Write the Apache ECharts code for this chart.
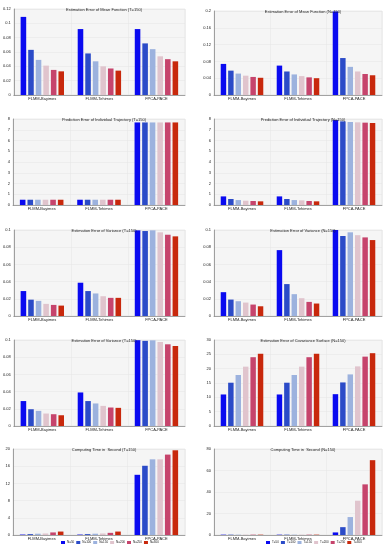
<!DOCTYPE html>
<html><head><meta charset="utf-8">
<script src="https://cdn.jsdelivr.net/npm/echarts@6/dist/echarts.min.js"></script>
<style>html,body{margin:0;padding:0;background:#fff}#c{width:389px;height:550px}</style>
</head><body><div id="c"></div>
<script>
const categories = ['FLMM-Bayimes', 'FLMM-Tehimes', 'FPCA-PACE'];
const namesT = ['N=50', 'N=100', 'N=150', 'N=200', 'N=250', 'N=300'];
const namesN = ['T=50', 'T=100', 'T=150', 'T=200', 'T=250', 'T=300'];
const colors = ['#0a0af0', '#2b4bc8', '#9cb2de', '#e0c4cd', '#c6446c', '#c8280c'];

const titles = [
  'Estimation Error of Mean Function (T=150)',
  'Estimation Error of Mean Function (N=150)',
  'Prediction Error of Individual Trajectory (T=150)',
  'Prediction Error of Individual Trajectory (N=150)',
  'Estimation Error of Variance (T=150)',
  'Estimation Error of Variance (N=150)',
  'Estimation Error of Variance (T=150)',
  'Estimation Error of Covariance Surface (N=150)',
  'Computing Time in  Second (T=150)',
  'Computing Time in  Second (N=150)'
];
const yMax = [0.12, 0.2, 8, 8, 0.1, 0.1, 0.1, 30, 20, 80];
const yStep = [0.02, 0.04, 1, 1, 0.02, 0.02, 0.02, 5, 4, 20];

// values per category (rows) for the 6 series (columns)
const meanErrT = [[0.109, 0.063, 0.049, 0.041, 0.035, 0.033], [0.092, 0.058, 0.047, 0.040, 0.037, 0.034], [0.092, 0.072, 0.064, 0.054, 0.050, 0.047]];
const meanErrN = [[0.074, 0.058, 0.051, 0.046, 0.043, 0.041], [0.070, 0.056, 0.049, 0.045, 0.042, 0.040], [0.199, 0.088, 0.067, 0.056, 0.050, 0.047]];
const predErrT = [[0.49, 0.49, 0.49, 0.49, 0.49, 0.49], [0.49, 0.49, 0.49, 0.49, 0.49, 0.49], [7.68, 7.68, 7.68, 7.68, 7.68, 7.68]];
const predErrN = [[0.80, 0.56, 0.46, 0.40, 0.37, 0.34], [0.80, 0.56, 0.46, 0.43, 0.37, 0.34], [7.90, 7.78, 7.72, 7.69, 7.66, 7.63]];
const varErrT = [[0.029, 0.019, 0.0176, 0.0141, 0.0129, 0.0121], [0.0387, 0.029, 0.0262, 0.023, 0.0211, 0.0211], [0.0996, 0.0988, 0.0996, 0.0973, 0.0945, 0.0926]];
const varErrN = [[0.0277, 0.0191, 0.0172, 0.0156, 0.0133, 0.0113], [0.0766, 0.0371, 0.0254, 0.0207, 0.0164, 0.0145], [0.100, 0.093, 0.0973, 0.094, 0.0914, 0.0883]];
const varErrT2 = [[0.029, 0.0195, 0.0176, 0.0145, 0.0137, 0.0125], [0.039, 0.029, 0.0262, 0.0234, 0.0215, 0.0211], [0.0998, 0.099, 0.0996, 0.0977, 0.095, 0.093]];
const covErrN = [[11.0, 15.1, 17.8, 20.7, 24.0, 25.2], [11.0, 15.1, 17.8, 20.7, 24.0, 25.2], [11.1, 15.2, 18.0, 20.8, 24.2, 25.4]];
const timeT = [[0.1, 0.2, 0.3, 0.35, 0.6, 0.8], [0.1, 0.2, 0.3, 0.35, 0.5, 0.8], [14.0, 16.1, 17.6, 17.6, 18.7, 19.7]];
const timeN = [[0.3, 0.3, 0.3, 0.3, 0.3, 0.3], [0.3, 0.3, 0.3, 0.3, 0.3, 0.3], [2.4, 7.3, 16.7, 31.9, 47.1, 69.6]];

const panels = [meanErrT, meanErrN, predErrT, predErrN, varErrT, varErrN, varErrT2, covErrN, timeT, timeN];

const tops = [9, 119, 230, 340, 449];
const lefts = [13, 214];
const widths = [172, 168];
const H = 86;

const grid = [], xAxis = [], yAxis = [], series = [], title = [];
panels.forEach((p, k) => {
  const col = k % 2, row = Math.floor(k / 2);
  const top = tops[row] + (k === 1 ? 2 : 0);
  const h = H - (k === 1 ? 2 : 0);
  grid.push({left: lefts[col], top: top, width: widths[col], height: h,
    show: true, backgroundColor: '#f5f5f5', borderColor: '#d8d8d8', borderWidth: 0.5});
  title.push({text: titles[k], left: lefts[col] + widths[col] / 2, top: top - 6.5, textAlign: 'center',
    textStyle: {fontSize: 4, fontWeight: 'normal', color: '#222', fontFamily: 'Liberation Sans'}});
  xAxis.push({type: 'category', gridIndex: k, data: categories,
    axisLine: {lineStyle: {color: '#555', width: 0.5}}, axisTick: {show: false},
    axisLabel: {fontSize: 4, color: '#222', margin: 2, fontFamily: 'Liberation Sans'},
    splitLine: {show: true, lineStyle: {color: '#e4e4e4', width: 0.5}}});
  yAxis.push({type: 'value', gridIndex: k, min: 0, max: yMax[k], interval: yStep[k],
    axisLine: {show: true, lineStyle: {color: '#555', width: 0.5}}, axisTick: {show: false},
    axisLabel: {fontSize: 4, color: '#222', margin: 3, fontFamily: 'Liberation Sans'},
    splitLine: {show: true, lineStyle: {color: '#e4e4e4', width: 0.5}}});
  const names = col === 0 ? namesT : namesN;
  for (let s = 0; s < 6; s++) {
    series.push({type: 'bar', name: names[s], xAxisIndex: k, yAxisIndex: k,
      data: p.map(r => r[s]), barGap: '36%', barCategoryGap: '24%',
      itemStyle: {color: colors[s]}, silent: true, animation: false});
  }
});

const legendCommon = {itemWidth: 4, itemHeight: 3, itemGap: 2, icon: 'rect', padding: 0,
  textStyle: {fontSize: 3, color: '#222', padding: [0, 0, 0, -3], fontFamily: 'Liberation Sans'}, top: 541};
const option = {
  animation: false,
  title: title,
  grid: grid, xAxis: xAxis, yAxis: yAxis, series: series,
  color: colors,
  legend: [
    Object.assign({data: namesT, left: 61}, legendCommon),
    Object.assign({data: namesN, left: 266}, legendCommon)
  ]
};
const chart = echarts.init(document.getElementById('c'), null, {renderer: 'canvas'});
chart.setOption(option);
</script></body></html>
